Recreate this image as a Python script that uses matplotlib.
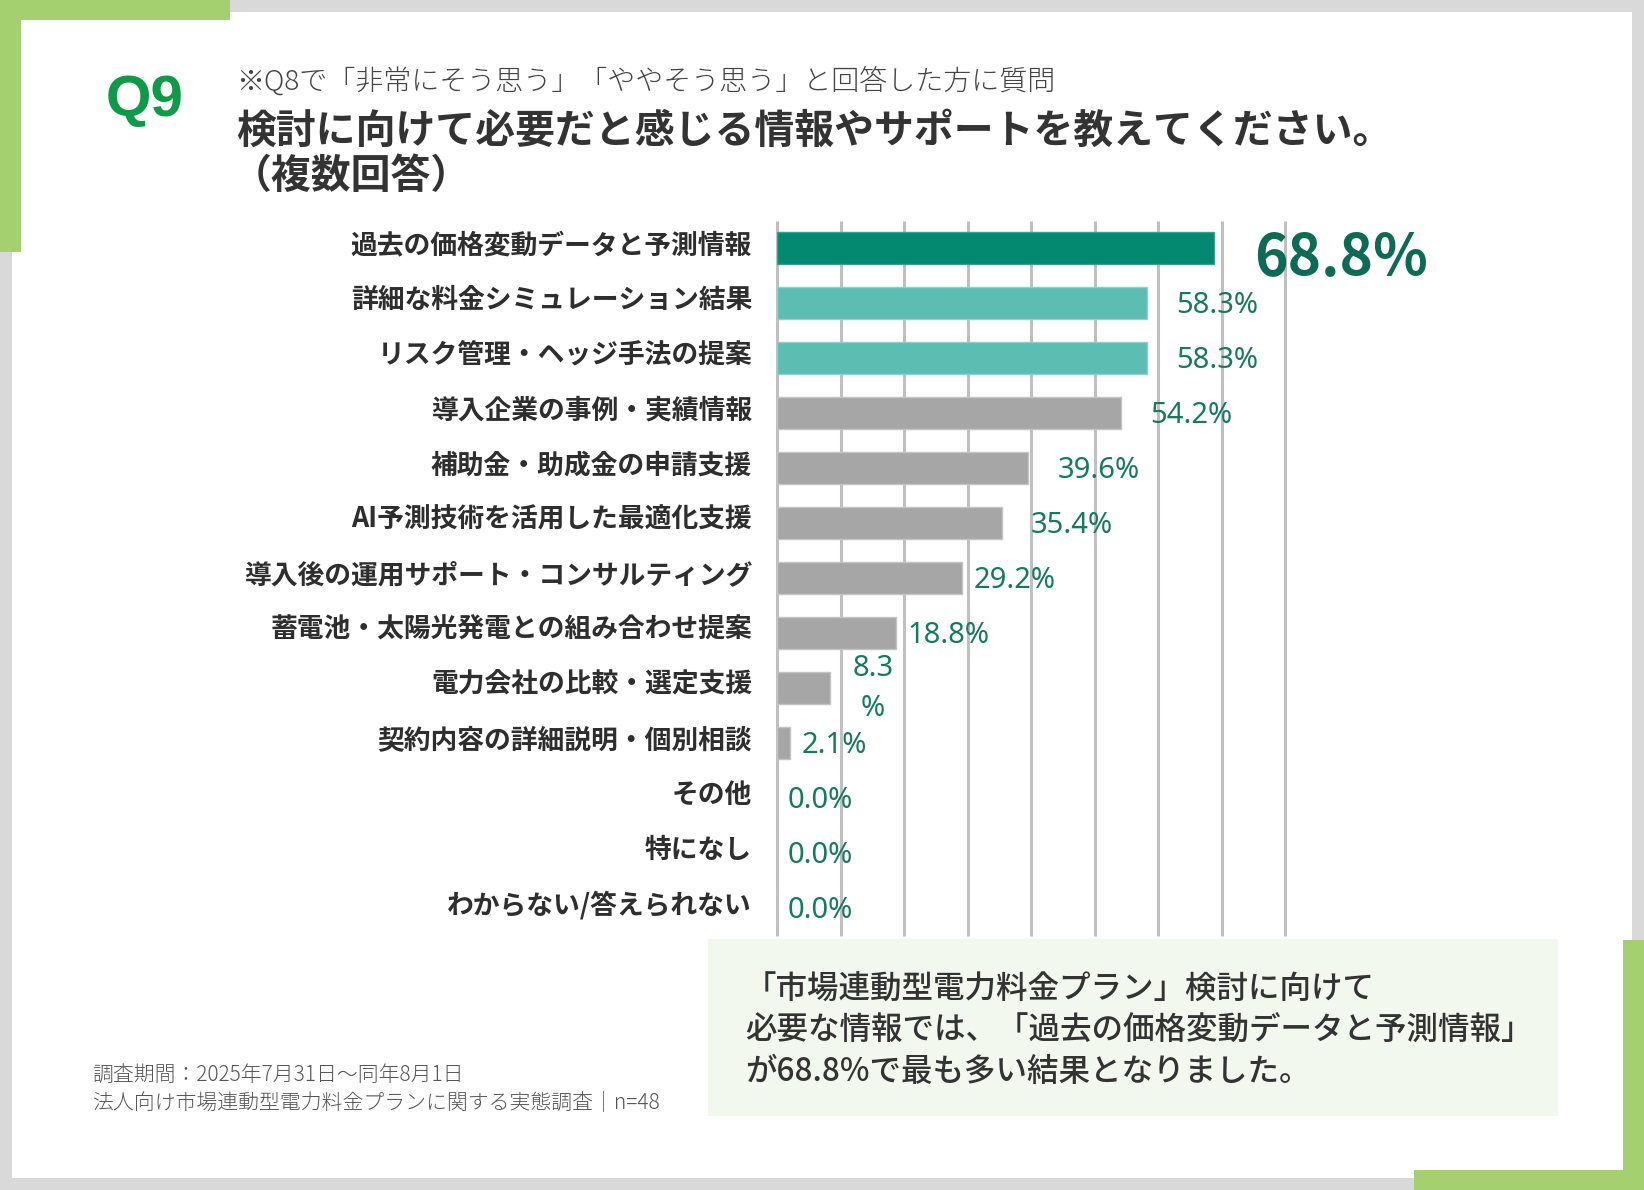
import numpy as np
import matplotlib
matplotlib.use('Agg')
import matplotlib.pyplot as plt
from matplotlib.patches import Rectangle
from matplotlib.transforms import ScaledTranslation

plt.rcParams['font.family'] = ['Noto Sans CJK JP', 'DejaVu Sans']

categories = [
    '過去の価格変動データと予測情報',
    '詳細な料金シミュレーション結果',
    'リスク管理・ヘッジ手法の提案',
    '導入企業の事例・実績情報',
    '補助金・助成金の申請支援',
    'AI予測技術を活用した最適化支援',
    '導入後の運用サポート・コンサルティング',
    '蓄電池・太陽光発電との組み合わせ提案',
    '電力会社の比較・選定支援',
    '契約内容の詳細説明・個別相談',
    'その他',
    '特になし',
    'わからない/答えられない',
]
values = [68.8, 58.3, 58.3, 54.2, 39.6, 35.4, 29.2, 18.8, 8.3, 2.1, 0.0, 0.0, 0.0]
value_labels = ['68.8%', '58.3%', '58.3%', '54.2%', '39.6%', '35.4%', '29.2%',
                '18.8%', '8.3\n%', '2.1%', '0.0%', '0.0%', '0.0%']
x_ticks = np.arange(0, 81, 10)

q_label = 'Q9'
note_text = '※Q8で「非常にそう思う」「ややそう思う」と回答した方に質問'
title_text = '検討に向けて必要だと感じる情報やサポートを教えてください。'
title_sub = '（複数回答）'
survey_notes = ['調査期間：2025年7月31日〜同年8月1日',
                '法人向け市場連動型電力料金プランに関する実態調査｜n=48']
summary_lines = ['「市場連動型電力料金プラン」検討に向けて',
                 '必要な情報では、「過去の価格変動データと予測情報」',
                 'が68.8%で最も多い結果となりました。']

W, H = 1644, 1190
GREEN = '#a4d070'


def fx(x):
    return x / W


def fy(y):
    return 1 - y / H


fig = plt.figure(figsize=(W / 100, H / 100), dpi=100)
fig.patch.set_facecolor('#d9d9d9')


def rect(x0, y0, x1, y1, color, z=-5):
    fig.patches.append(Rectangle((fx(x0), fy(y1)), (x1 - x0) / W, (y1 - y0) / H,
                                 transform=fig.transFigure, facecolor=color,
                                 edgecolor='none', zorder=z))


# frame
rect(12, 12, 1632, 1178, 'white', z=-10)
rect(0, 0, 230, 20, GREEN)
rect(0, 0, 21, 252, GREEN)
rect(1623, 940, 1644, 1190, GREEN)
rect(1414, 1170, 1644, 1190, GREEN)

# header
fig.text(fx(145), fy(101), q_label, ha='center', va='center', fontsize=42,
         fontweight='bold', color='#0e9a47',
         family=['Liberation Sans Narrow', 'Liberation Sans', 'DejaVu Sans'])
fig.text(fx(236), fy(82), note_text, ha='left', va='center', fontsize=20.2,
         fontweight='light', color='#444444')
fig.text(fx(236), fy(131), title_text, ha='left', va='center', fontsize=28.7,
         fontweight='bold', color='#333333')
fig.text(fx(232), fy(176), title_sub, ha='left', va='center', fontsize=28.7,
         fontweight='bold', color='#333333')

# chart
ax = fig.add_axes([fx(777), fy(935.5), (1285 - 777) / W, 715 / H])
ax.set_facecolor('none')
ax.set_xlim(0, 80)
ax.set_ylim(len(categories) - 0.5, -0.5)
for s in ax.spines.values():
    s.set_visible(False)
ax.vlines(x_ticks, -0.5, len(categories) - 0.5, color='#c0c0c0', lw=2.2, zorder=0,
          clip_on=False)

colors = ['#02896f'] + ['#5cbdb3'] * 2 + ['#a6a6a6'] * (len(values) - 3)
edges = ['#3aa08c'] + ['#8fd0c8'] * 2 + ['#c4c4c4'] * (len(values) - 3)
y = np.arange(len(categories))
ax.barh(y, values, height=0.57, color=colors, edgecolor=edges, lw=1, zorder=2)

ax.set_xticks([])
ax.set_yticks(y)
ax.set_yticklabels(categories, fontsize=19.3, fontweight='bold', color='#2e2e2e')
ax.tick_params(axis='y', length=0, pad=18)
lift = ScaledTranslation(0, 6 / 100, fig.dpi_scale_trans)
for t in ax.get_yticklabels():
    t.set_transform(t.get_transform() + lift)

for i, (v, lab) in enumerate(zip(values, value_labels)):
    if i == 0:
        ax.annotate(lab, (v, i), xytext=(29, -8), textcoords='offset points',
                    ha='left', va='center', fontsize=41, fontweight='bold',
                    color='#0d6b55')
    elif '\n' in lab:
        ax.annotate(lab, (v, i), xytext=(31, 0), textcoords='offset points',
                    ha='center', va='center', fontsize=21, color='#17795f',
                    linespacing=1.5, family=['Noto Sans', 'DejaVu Sans'])
    else:
        off = 21 if v >= 35 else 8
        ax.annotate(lab, (v, i), xytext=(off, -2), textcoords='offset points',
                    ha='left', va='center', fontsize=21, color='#17795f',
                    family=['Noto Sans', 'DejaVu Sans'])

# summary box
rect(708, 939, 1558, 1116, '#f3f8ee', z=5)
for k, line in enumerate(summary_lines):
    fig.text(fx(745), fy(990 + 41 * k), line, ha='left', va='center', fontsize=22.7,
             fontweight='medium', color='#333333', zorder=6)

# survey notes
for k, line in enumerate(survey_notes):
    fig.text(fx(92), fy(1075 + 27 * k), line, ha='left', va='center', fontsize=15,
             fontweight='light', color='#555555')

fig.savefig('out.png', dpi=100, facecolor=fig.get_facecolor())
